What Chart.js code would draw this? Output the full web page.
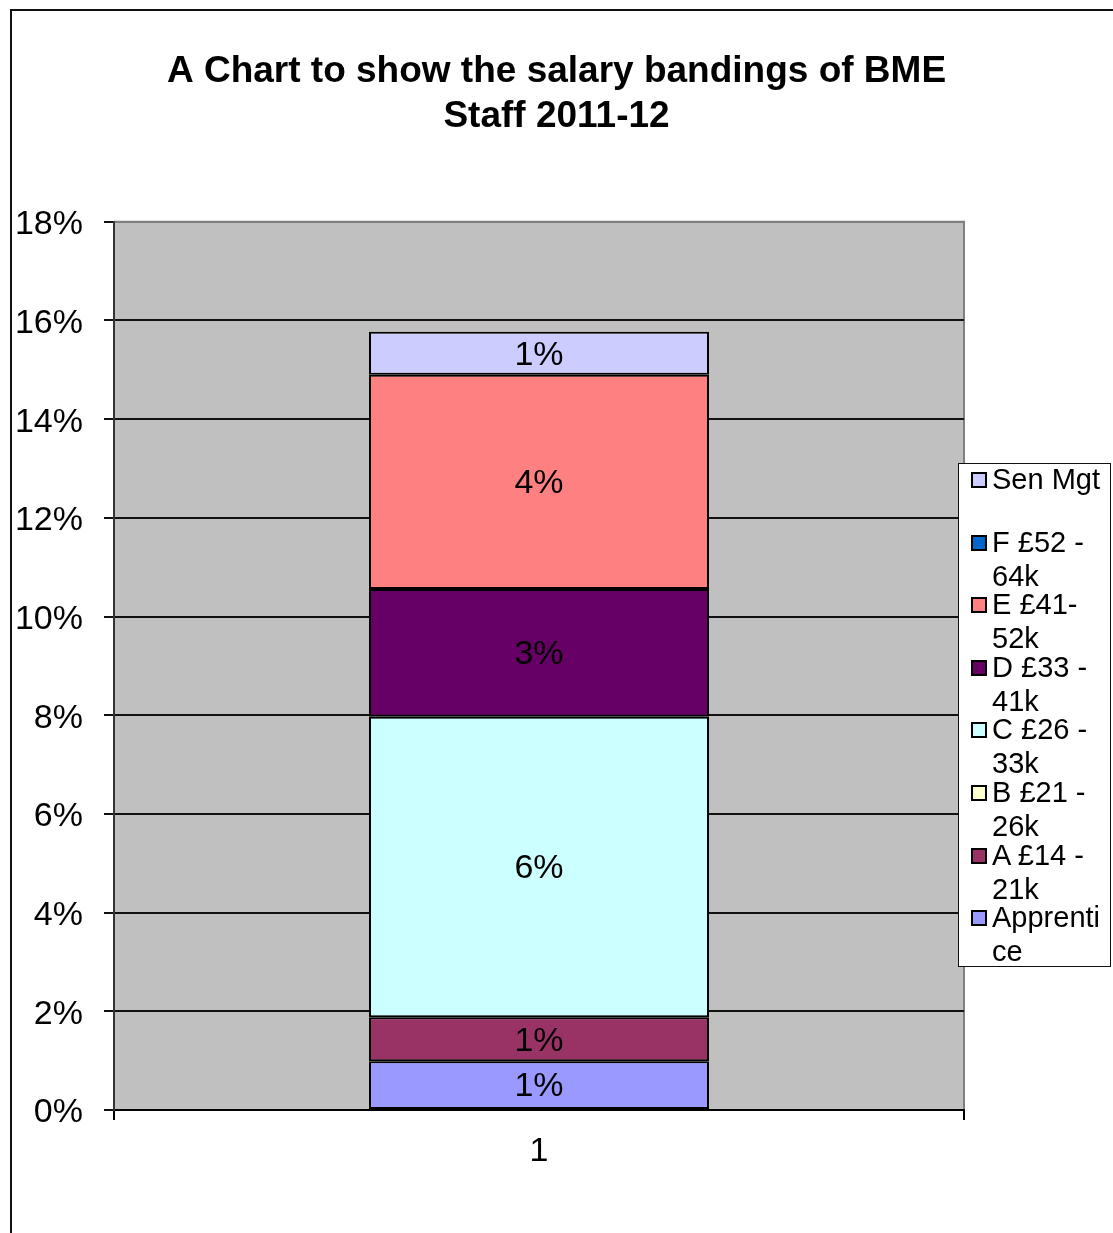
<!DOCTYPE html>
<html>
<head>
<meta charset="utf-8">
<script src="https://cdn.jsdelivr.net/npm/chart.js@4.4.0/dist/chart.umd.min.js"></script>
<style>
  html, body { margin: 0; padding: 0; background: #fff; }
  #wrap { position: relative; width: 1113px; height: 1233px; overflow: hidden; font-family: "Liberation Sans", Arial, sans-serif; }
  #frame { position: absolute; left: 10px; top: 9px; width: 1200px; height: 1300px; border-left: 2px solid #111; border-top: 2px solid #111; }
  #salaryChart { position: absolute; left: 0; top: 0; }
  #legend { position: absolute; left: 958px; top: 463px; width: 153px; height: 504px; border: 1px solid #111; background: #fff; box-sizing: border-box; }
  .item { position: relative; height: 62.6px; padding-left: 33px; box-sizing: border-box; }
  .item .sw { position: absolute; left: 12px; top: 8px; width: 12px; height: 12px; border: 2px solid #000; }
  .item .tx { position: relative; top: -2px; font-size: 29px; line-height: 34px; color: #000; width: 117px; overflow-wrap: anywhere; }
</style>
</head>
<body>
<div id="wrap">
  <div id="frame"></div>
  <canvas id="salaryChart" width="1113" height="1233"></canvas>
  <div id="legend"></div>
</div>
<script>
(function () {
    const categories = ['1'];
    const seriesNames = ['Apprentice', 'A £14 - 21k', 'B £21 - 26k', 'C £26 - 33k', 'D £33 - 41k', 'E £41-52k', 'F £52 - 64k', 'Sen Mgt'];
    const seriesColors = ['#9999FF', '#993366', '#FFFFCC', '#CCFFFF', '#660066', '#FF8080', '#0066CC', '#CCCCFF'];
    // percentage of BME staff in each band
    const apprentice = [0.99];
    const bandA = [0.89];
    const bandB = [0];
    const bandC = [6.09];
    const bandD = [2.59];
    const bandE = [4.34];
    const bandF = [0];
    const senMgt = [0.87];
    const seriesValues = [apprentice, bandA, bandB, bandC, bandD, bandE, bandF, senMgt];
    const yTicks = [0, 2, 4, 6, 8, 10, 12, 14, 16, 18];

    const fontFamily = '"Liberation Sans", Arial, sans-serif';

    const datasets = seriesNames.map((name, i) => ({
        label: name,
        data: seriesValues[i],
        backgroundColor: seriesColors[i],
        borderColor: '#000',
        borderWidth: 2,
        borderSkipped: false,
        barPercentage: 0.4,
        categoryPercentage: 1
    }));

    const plotBackground = {
        id: 'plotBackground',
        beforeDraw(chart) {
            const { ctx, chartArea: a } = chart;
            ctx.save();
            ctx.fillStyle = '#c0c0c0';
            ctx.fillRect(a.left, a.top, a.right - a.left, a.bottom - a.top);
            ctx.strokeStyle = '#808080';
            ctx.lineWidth = 2;
            ctx.beginPath();
            ctx.moveTo(a.left, a.top);
            ctx.lineTo(a.right, a.top);
            ctx.lineTo(a.right, a.bottom);
            ctx.stroke();
            ctx.restore();
        }
    };

    const barLabels = {
        id: 'barLabels',
        afterDatasetsDraw(chart) {
            const ctx = chart.ctx;
            ctx.save();
            ctx.font = '34px ' + fontFamily;
            ctx.fillStyle = '#000';
            ctx.textAlign = 'center';
            ctx.textBaseline = 'middle';
            chart.data.datasets.forEach((ds, i) => {
                const meta = chart.getDatasetMeta(i);
                meta.data.forEach((bar, j) => {
                    const v = ds.data[j];
                    if (!v) return;
                    ctx.fillText(Math.round(v) + '%', bar.x, (bar.y + bar.base) / 2 + 2);
                });
            });
            ctx.restore();
        }
    };

    new Chart(document.getElementById('salaryChart'), {
        type: 'bar',
        data: { labels: categories, datasets: datasets },
        options: {
            responsive: false,
            animation: false,
            devicePixelRatio: 1,
            layout: { padding: 0 },
            plugins: {
                legend: { display: false },
                tooltip: { enabled: false },
                title: {
                    display: true,
                    text: ['A Chart to show the salary bandings of BME', 'Staff 2011-12'],
                    color: '#000',
                    font: { family: fontFamily, size: 37, weight: 'bold', lineHeight: 1.2 },
                    padding: { top: 50, bottom: 83 }
                }
            },
            scales: {
                x: {
                    stacked: true,
                    grid: { display: true, drawOnChartArea: false, drawTicks: true, tickLength: 10, color: '#000', lineWidth: 2, offset: true },
                    border: { display: true, color: '#000', width: 2 },
                    ticks: { color: '#000', font: { family: fontFamily, size: 34 }, padding: 11 },
                    afterFit(scale) { scale.height = 123; }
                },
                y: {
                    stacked: true,
                    min: yTicks[0],
                    max: yTicks[yTicks.length - 1],
                    afterBuildTicks(scale) { scale.ticks = yTicks.map(v => ({ value: v })); },
                    grid: {
                        color: ctx => (ctx.tick && ctx.tick.value === 18 ? '#808080' : '#111'),
                        lineWidth: 2,
                        tickLength: 10,
                        tickColor: '#111'
                    },
                    border: { display: true, color: '#333', width: 2 },
                    ticks: {
                        color: '#000',
                        font: { family: fontFamily, size: 34 },
                        padding: 21,
                        labelOffset: 3,
                        callback: v => v + '%'
                    },
                    afterFit(scale) { scale.width = 114; }
                },
                yRight: {
                    position: 'right',
                    display: true,
                    grid: { display: false },
                    border: { display: false },
                    ticks: { display: false },
                    afterFit(scale) { scale.width = 149; }
                }
            }
        },
        plugins: [plotBackground, barLabels]
    });

    // legend, top to bottom in reverse series order
    const legend = document.getElementById('legend');
    for (let i = seriesNames.length - 1; i >= 0; i--) {
        const item = document.createElement('div');
        item.className = 'item';
        item.innerHTML = '<div class="sw" style="background:' + seriesColors[i] + '"></div><div class="tx"></div>';
        item.querySelector('.tx').textContent = seriesNames[i];
        legend.appendChild(item);
    }
})();
</script>
</body>
</html>
